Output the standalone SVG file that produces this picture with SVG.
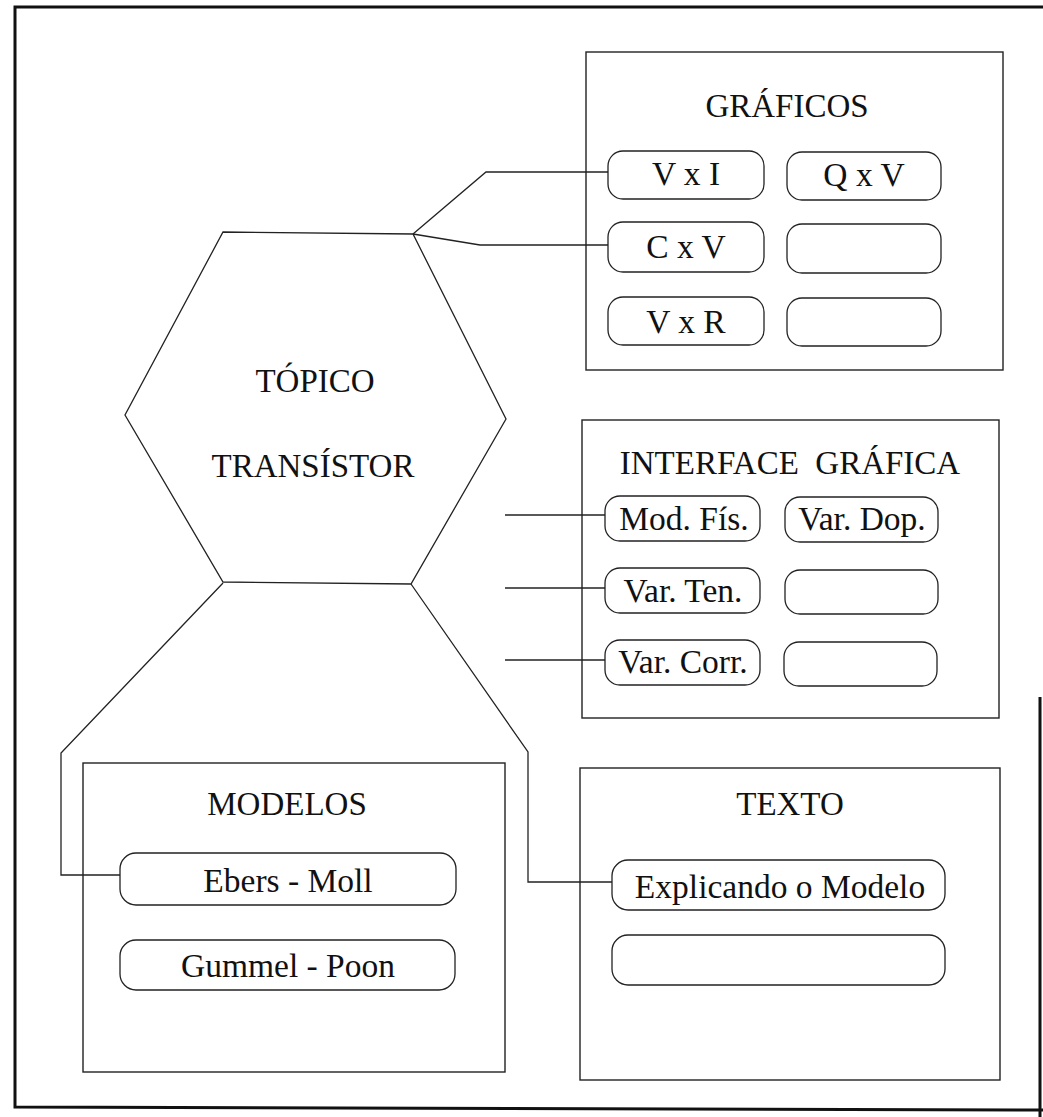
<svg xmlns="http://www.w3.org/2000/svg" width="1043" height="1117" viewBox="0 0 1043 1117">
  <style>
    .frame { fill: none; stroke: #111; stroke-width: 3; }
    .panel { fill: none; stroke: #222; stroke-width: 1.4; }
    .pill { fill: none; stroke: #222; stroke-width: 1.3; }
    .hex { fill: none; stroke: #222; stroke-width: 1.3; }
    .wire { fill: none; stroke: #222; stroke-width: 1.3; }
    text { fill: #111; text-anchor: middle; }
    .title { font-size: 33px; }
    .label { font-size: 33.5px; }
    .topic { font-size: 33px; }
  </style>
  <rect width="1043" height="1117" fill="#fff"/>

  <!-- page frame -->
  <g id="frame">
    <path class="frame" d="M1043 7 L15 7 L15 1107 L1043 1110 M1040 697 L1040 1117"/>
  </g>

  <!-- links -->
  <g id="connectors">
    <polyline class="wire" points="413,234 486,172 608,172"/>
    <polyline class="wire" points="413,234 480,245 608,245"/>
    <line class="wire" x1="505" y1="515" x2="605" y2="515"/>
    <line class="wire" x1="505" y1="588" x2="605" y2="588"/>
    <line class="wire" x1="505" y1="660" x2="605" y2="660"/>
    <polyline class="wire" points="223,583 61,753 61,875 120,875"/>
    <polyline class="wire" points="411,584 528,752 528,882 612,882"/>
  </g>

  <g font-family="Liberation Serif, Times New Roman, DejaVu Serif, serif">
    <!-- central topic -->
    <g id="topic">
      <polygon class="hex" points="223,232 413,234 506,419 411,584 223,582 125,415"/>
      <text class="topic" x="315" y="392">TÓPICO</text>
      <text class="topic" x="313" y="477">TRANSÍSTOR</text>
    </g>

    <!-- plots -->
    <g id="graficos">
      <rect class="panel" x="586" y="52" width="417" height="318"/>
      <text class="title" x="787" y="117">GRÁFICOS</text>
      <rect class="pill" x="608" y="151" width="156" height="48" rx="15"/>
      <text class="label" x="686" y="185">V x I</text>
      <rect class="pill" x="787" y="152" width="154" height="48" rx="15"/>
      <text class="label" x="864" y="186">Q x V</text>
      <rect class="pill" x="608" y="222" width="156" height="50" rx="15"/>
      <text class="label" x="686" y="258">C x V</text>
      <rect class="pill" x="787" y="224" width="154" height="49" rx="15"/>
      <rect class="pill" x="608" y="297" width="156" height="48" rx="15"/>
      <text class="label" x="686" y="333">V x R</text>
      <rect class="pill" x="787" y="298" width="154" height="48" rx="15"/>
    </g>

    <!-- graphical interface -->
    <g id="interface">
      <rect class="panel" x="582" y="420" width="417" height="298"/>
      <text class="title" x="790" y="474" font-size="34px" xml:space="preserve">INTERFACE  GRÁFICA</text>
      <rect class="pill" x="605" y="496" width="155" height="45" rx="15"/>
      <text class="label" x="684" y="530">Mod. Fís.</text>
      <rect class="pill" x="785" y="497" width="153" height="45" rx="15"/>
      <text class="label" x="862" y="530">Var. Dop.</text>
      <rect class="pill" x="605" y="568" width="155" height="45" rx="15"/>
      <text class="label" x="683" y="602">Var. Ten.</text>
      <rect class="pill" x="785" y="570" width="153" height="44" rx="15"/>
      <rect class="pill" x="605" y="640" width="155" height="45" rx="15"/>
      <text class="label" x="683" y="673">Var. Corr.</text>
      <rect class="pill" x="784" y="642" width="153" height="44" rx="15"/>
    </g>

    <!-- models -->
    <g id="modelos">
      <rect class="panel" x="83" y="763" width="422" height="309"/>
      <text class="title" x="287" y="815">MODELOS</text>
      <rect class="pill" x="120" y="853" width="336" height="52" rx="16"/>
      <text class="label" x="288" y="892">Ebers - Moll</text>
      <rect class="pill" x="120" y="940" width="335" height="50" rx="16"/>
      <text class="label" x="288" y="977">Gummel - Poon</text>
    </g>

    <!-- text -->
    <g id="texto">
      <rect class="panel" x="580" y="768" width="420" height="312"/>
      <text class="title" x="790" y="815">TEXTO</text>
      <rect class="pill" x="612" y="860" width="333" height="50" rx="16"/>
      <text class="label" x="780" y="898">Explicando o Modelo</text>
      <rect class="pill" x="612" y="935" width="333" height="50" rx="16"/>
    </g>
  </g>
</svg>
